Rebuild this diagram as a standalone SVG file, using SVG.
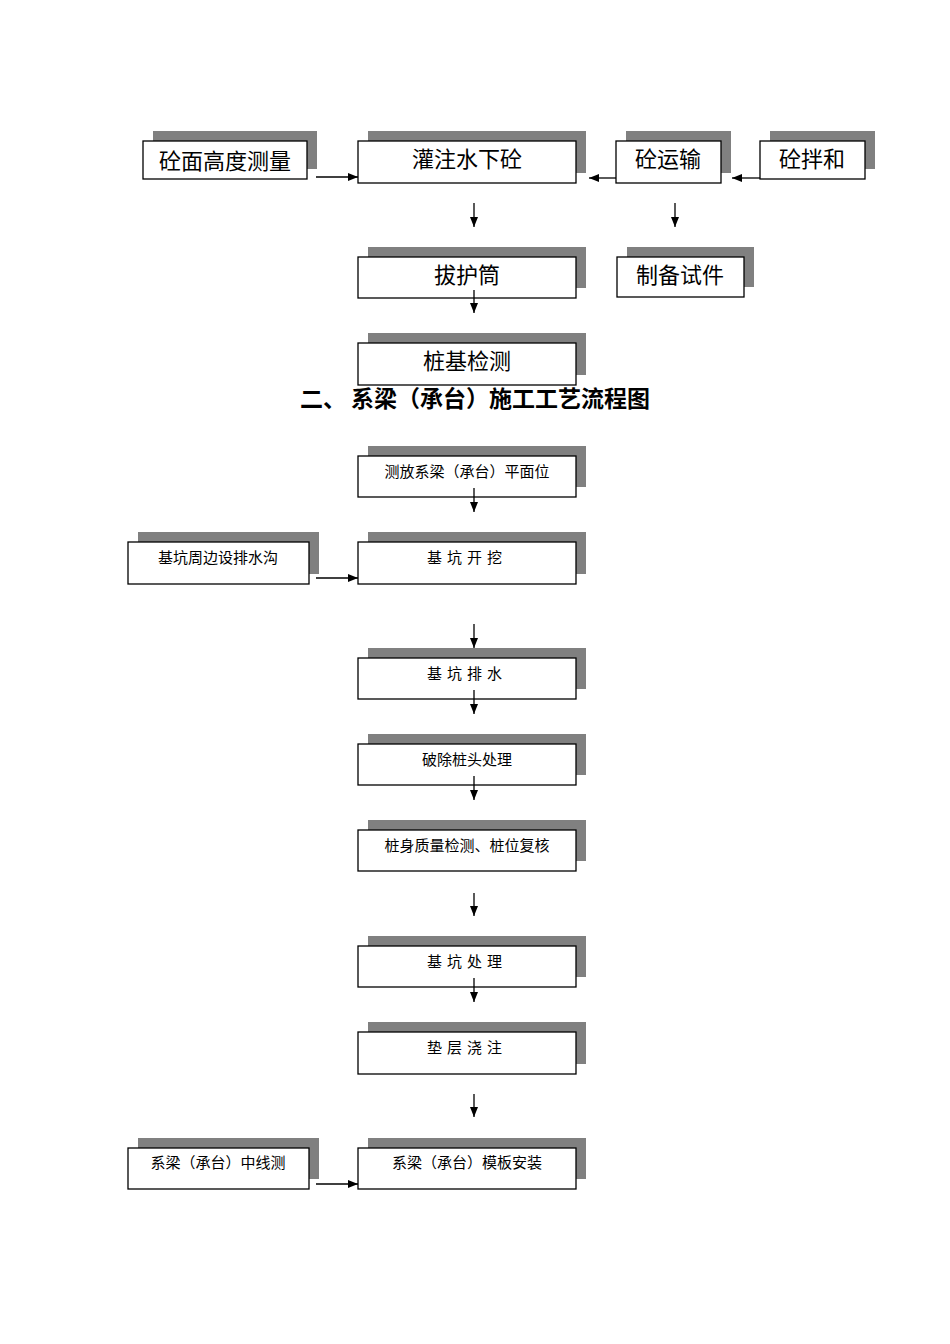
<svg xmlns="http://www.w3.org/2000/svg" width="950" height="1344" viewBox="0 0 950 1344">
<defs>
<marker id="ah" markerWidth="10" markerHeight="8" refX="10" refY="4" orient="auto" markerUnits="userSpaceOnUse"><path d="M0,0 L10,4 L0,8 z" fill="#000"/></marker>
</defs>
<style>
.sh{fill:#808080}
.bx{fill:#fff;stroke:#000;stroke-width:1.3}
.t1{font-family:"Noto Sans CJK SC","Liberation Serif",serif;font-size:22px;text-anchor:middle;fill:#000}
.t2{font-family:"Noto Sans CJK SC","Liberation Serif",serif;font-size:15px;text-anchor:middle;fill:#000}
.ln{stroke:#000;stroke-width:1.3;fill:none;marker-end:url(#ah)}
</style>
<rect width="950" height="1344" fill="#fff"/>
<g id="n1"><rect class="sh" x="153" y="131" width="164" height="38"/><rect class="bx" x="143" y="141" width="164" height="38"/><text class="t1" x="225" y="169">砼面高度测量</text></g>
<g id="n2"><rect class="sh" x="368" y="131" width="218" height="42"/><rect class="bx" x="358" y="141" width="218" height="42"/><text class="t1" x="467" y="167">灌注水下砼</text></g>
<g id="n3"><rect class="sh" x="626" y="131" width="105" height="42"/><rect class="bx" x="616" y="141" width="105" height="42"/><text class="t1" x="668" y="167">砼运输</text></g>
<g id="n4"><rect class="sh" x="770" y="131" width="105" height="38"/><rect class="bx" x="760" y="141" width="105" height="38"/><text class="t1" x="812" y="167">砼拌和</text></g>
<g id="n5"><rect class="sh" x="368" y="247" width="218" height="41"/><rect class="bx" x="358" y="257" width="218" height="41"/><text class="t1" x="467" y="283">拔护筒</text></g>
<g id="n6"><rect class="sh" x="627" y="247" width="127" height="40"/><rect class="bx" x="617" y="257" width="127" height="40"/><text class="t1" x="680" y="283">制备试件</text></g>
<g id="n7"><rect class="sh" x="368" y="333" width="218" height="42"/><rect class="bx" x="358" y="343" width="218" height="42"/><text class="t1" x="467" y="369">桩基检测</text></g>
<text x="475" y="407" style="font-family:'Noto Sans CJK SC',serif;font-size:23px;font-weight:bold;text-anchor:middle">二、 系梁（承台）施工工艺流程图</text>
<g id="n8"><rect class="sh" x="368" y="446" width="218" height="41"/><rect class="bx" x="358" y="456" width="218" height="41"/><text class="t2" x="467" y="477">测放系梁（承台）平面位</text></g>
<g id="n9"><rect class="sh" x="138" y="532" width="181" height="42"/><rect class="bx" x="128" y="542" width="181" height="42"/><text class="t2" x="218" y="563">基坑周边设排水沟</text></g>
<g id="n10"><rect class="sh" x="368" y="532" width="218" height="42"/><rect class="bx" x="358" y="542" width="218" height="42"/><text class="t2" x="467" y="563" letter-spacing="5">基坑开挖</text></g>
<g id="n11"><rect class="sh" x="368" y="648" width="218" height="41"/><rect class="bx" x="358" y="658" width="218" height="41"/><text class="t2" x="467" y="679" letter-spacing="5">基坑排水</text></g>
<g id="n12"><rect class="sh" x="368" y="734" width="218" height="41"/><rect class="bx" x="358" y="744" width="218" height="41"/><text class="t2" x="467" y="765">破除桩头处理</text></g>
<g id="n13"><rect class="sh" x="368" y="820" width="218" height="41"/><rect class="bx" x="358" y="830" width="218" height="41"/><text class="t2" x="467" y="851">桩身质量检测、桩位复核</text></g>
<g id="n14"><rect class="sh" x="368" y="936" width="218" height="41"/><rect class="bx" x="358" y="946" width="218" height="41"/><text class="t2" x="467" y="967" letter-spacing="5">基坑处理</text></g>
<g id="n15"><rect class="sh" x="368" y="1022" width="218" height="42"/><rect class="bx" x="358" y="1032" width="218" height="42"/><text class="t2" x="467" y="1053" letter-spacing="5">垫层浇注</text></g>
<g id="n16"><rect class="sh" x="138" y="1138" width="181" height="41"/><rect class="bx" x="128" y="1148" width="181" height="41"/><text class="t2" x="218" y="1168">系梁（承台）中线测</text></g>
<g id="n17"><rect class="sh" x="368" y="1138" width="218" height="41"/><rect class="bx" x="358" y="1148" width="218" height="41"/><text class="t2" x="467" y="1168">系梁（承台）模板安装</text></g>
<g id="connectors">
<line class="ln" x1="316" y1="177" x2="358" y2="177"/>
<line class="ln" x1="616" y1="178" x2="589" y2="178"/>
<line class="ln" x1="760" y1="178" x2="732" y2="178"/>
<line class="ln" x1="474" y1="203" x2="474" y2="227"/>
<line class="ln" x1="675" y1="203" x2="675" y2="227"/>
<line class="ln" x1="474" y1="290" x2="474" y2="313"/>
<line class="ln" x1="474" y1="488" x2="474" y2="512"/>
<line class="ln" x1="316" y1="578" x2="358" y2="578"/>
<line class="ln" x1="474" y1="624" x2="474" y2="648"/>
<line class="ln" x1="474" y1="690" x2="474" y2="714"/>
<line class="ln" x1="474" y1="776" x2="474" y2="800"/>
<line class="ln" x1="474" y1="893" x2="474" y2="916"/>
<line class="ln" x1="474" y1="978" x2="474" y2="1002"/>
<line class="ln" x1="474" y1="1094" x2="474" y2="1117"/>
<line class="ln" x1="316" y1="1184" x2="358" y2="1184"/>
</g>
</svg>
